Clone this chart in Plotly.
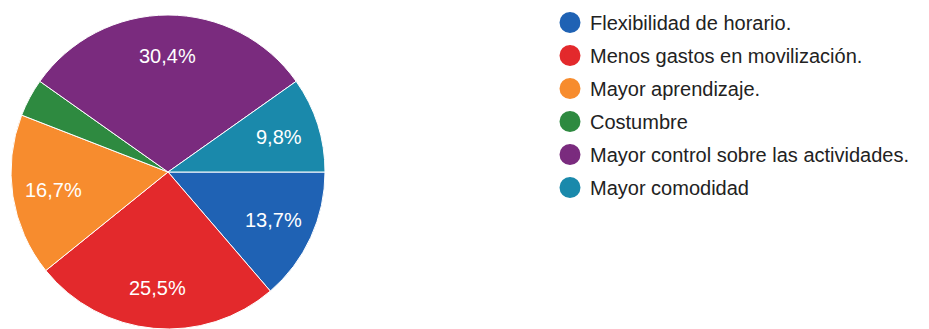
import math
import plotly.graph_objects as go

labels = ["Flexibilidad de horario.", "Menos gastos en movilización.", "Mayor aprendizaje.",
          "Costumbre", "Mayor control sobre las actividades.", "Mayor comodidad"]
values = [13.7, 25.5, 16.7, 3.9, 30.4, 9.8]
colors = ["#1f62b4", "#e3292c", "#f78c2e", "#2e8a40", "#7a2b7e", "#1a89ab"]

W, H = 929, 329
FONT = "Liberation Sans, Arial"
# pie domain (paper fractions)
dom_x = [10 / W, 326 / W]
dom_y = [0, 314 / H]

fig = go.Figure()
fig.add_trace(go.Pie(
    labels=labels, values=values, sort=False, direction="clockwise", rotation=90,
    marker=dict(colors=colors, line=dict(color="white", width=1)),
    textinfo="none", showlegend=False, hoverinfo="label+percent",
    domain=dict(x=dom_x, y=dom_y),
))

# percentage labels placed at 0.74 of the radius along each slice's mid-angle
cx_px = (dom_x[0] + dom_x[1]) / 2 * W
cy_px = (dom_y[0] + dom_y[1]) / 2 * H  # from bottom
radius = min((dom_x[1] - dom_x[0]) * W, (dom_y[1] - dom_y[0]) * H) / 2
total = sum(values)
cum = 0.0
for v in values:
    mid = (cum + v / 2) / total * 2 * math.pi  # clockwise from 3 o'clock
    cum += v
    if v / total < 0.05:
        continue
    r = 0.74 * radius
    x = (cx_px + r * math.cos(mid)) / W
    y = (cy_px - r * math.sin(mid)) / H
    fig.add_annotation(x=x, y=y, xref="paper", yref="paper", showarrow=False,
                       xanchor="center", yanchor="middle",
                       text=f"{v / total * 100:.1f}%".replace(".", ","),
                       font=dict(color="white", size=20, family=FONT))

for lab, col in zip(labels, colors):
    fig.add_trace(go.Scatter(
        x=[None], y=[None], mode="markers", name=lab, legendgroup=lab,
        marker=dict(symbol="circle", size=16, color=col, line=dict(color=col, width=5)),
    ))

fig.update_layout(
    width=W, height=H, margin=dict(l=0, r=0, t=0, b=0),
    paper_bgcolor="white", plot_bgcolor="white",
    xaxis=dict(visible=False), yaxis=dict(visible=False),
    font=dict(family=FONT, size=20, color="#222222"),
    legend=dict(x=550 / W, xanchor="left", y=1 - 3 / H, yanchor="top",
                tracegroupgap=4, font=dict(size=20, color="#222222"),
                bgcolor="rgba(0,0,0,0)"),
)
fig.write_html("out.html")
